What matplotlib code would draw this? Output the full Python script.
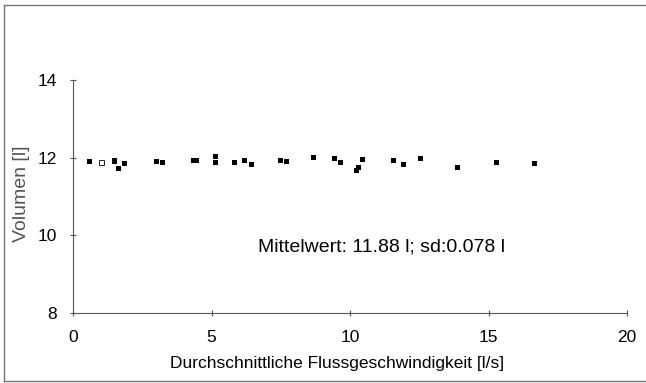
import matplotlib
matplotlib.use("Agg")
import matplotlib.pyplot as plt
from matplotlib.lines import Line2D

plt.rcParams['font.family'] = ['Liberation Sans', 'DejaVu Sans']

# Messwerte: Flussgeschwindigkeit [l/s] und Volumen [l]
fluss = [0.58, 1.47, 1.47, 1.62, 1.83, 2.99, 3.20, 4.35, 4.45, 5.13, 5.13,
         5.80, 6.16, 6.42, 7.47, 7.70, 8.65, 9.42, 9.65, 10.21, 10.28,
         10.44, 11.55, 11.92, 12.54, 13.86, 15.28, 16.64]
volumen = [11.92, 11.95, 11.91, 11.74, 11.85, 11.92, 11.89, 11.94, 11.94,
           12.04, 11.90, 11.88, 11.93, 11.84, 11.94, 11.92, 12.01, 12.00,
           11.90, 11.69, 11.77, 11.97, 11.94, 11.83, 11.98, 11.76, 11.90,
           11.87]
# offener Punkt
fluss_offen = [1.01]
volumen_offen = [11.90]

x_ticks = [0, 5, 10, 15, 20]
y_ticks = [8, 10, 12, 14]

fig = plt.figure(figsize=(6.46, 3.83), dpi=100)
ax = fig.add_axes([73/646, 1-313/383, (627-73)/646, (313-80)/383])

ax.plot(fluss, volumen, 's', color='black', markersize=3.6, markeredgewidth=0)
ax.plot(fluss_offen, volumen_offen, 's', markerfacecolor='white',
        markeredgecolor='black', markersize=3.6, markeredgewidth=0.6)

ax.set_xlim(0, 20)
ax.set_ylim(8, 14)
ax.set_xticks(x_ticks)
ax.set_yticks(y_ticks)
ax.tick_params(direction='inout', length=5, width=0.8, colors='#555555',
               labelsize=12.5, labelcolor='black')
ax.tick_params(axis='x', pad=10)
ax.tick_params(axis='y', pad=9)
for s in ['top', 'right']:
    ax.spines[s].set_visible(False)
for s in ['left', 'bottom']:
    ax.spines[s].set_color('#555555')
    ax.spines[s].set_linewidth(0.8)

ax.set_xlabel('Durchschnittliche Flussgeschwindigkeit [l/s]', fontsize=12.5)
ax.xaxis.set_label_coords((337-73)/554, -(356-313)/233, transform=ax.transAxes)
ax.set_ylabel('Volumen [l]', fontsize=14, color='#555555')
ax.yaxis.set_label_coords(-(73-22)/554, (313-194)/233, transform=ax.transAxes)
ax.yaxis.label.set_va('center')

ax.text(6.68, 9.70, 'Mittelwert: 11.88 l; sd:0.078 l', fontsize=14, va='center')

# Rahmen um die Grafik (links, oben, unten)
rahmen = dict(color='#777777', linewidth=1.0, transform=fig.transFigure)
fig.lines.append(Line2D([4/646, 4/646], [2/383, 378/383], **rahmen))
fig.lines.append(Line2D([4/646, 1.0], [378/383, 378/383], **rahmen))
fig.lines.append(Line2D([4/646, 1.0], [2/383, 2/383], **rahmen))

fig.savefig('out.png', dpi=100)
